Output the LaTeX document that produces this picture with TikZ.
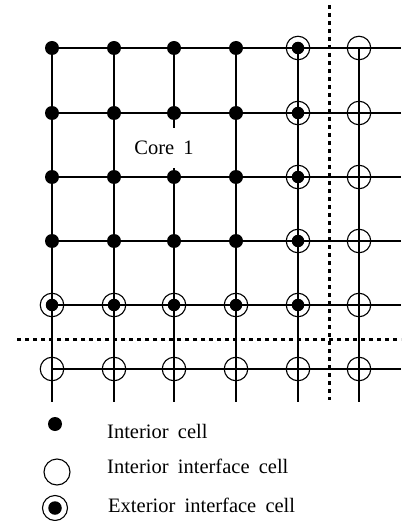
\documentclass[tikz,border=0pt]{standalone}
\usepackage{fontspec}
\setmainfont{Liberation Serif}[WordSpace=1.8]
\begin{document}
\begin{tikzpicture}[x=1pt,y=-1pt,
  gridline/.style={line width=1.1pt},
  partline/.style={line width=3pt, dash pattern=on 4pt off 4pt},
  incell/.style={circle, fill=black, inner sep=0pt, minimum size=14pt},
  ringcell/.style={circle, draw=black, line width=1.1pt, inner sep=0pt, minimum size=23.5pt},
  dotcore/.style={circle, fill=black, inner sep=0pt, minimum size=12.5pt},
  label/.style={font=\fontsize{20.5}{23}\selectfont, inner sep=0pt, anchor=base west}]
\useasboundingbox (0,0) rectangle (401,521);

% grid points
\foreach \r/\yy in {1/48,2/113,3/177,4/241,5/305,6/369}{
  \foreach \c/\xx in {1/52,2/114,3/174,4/236,5/298,6/359}{
    \coordinate (p-\r-\c) at (\xx,\yy);
  }
  \coordinate (re-\r) at (401,\yy);
}
\foreach \c/\xx in {1/52,2/114,3/174,4/236,5/298,6/359}{
  \coordinate (be-\c) at (\xx,402);
}

% grid lines
\foreach \r in {1,...,6}{ \draw[gridline] (p-\r-1) -- (re-\r); }
\foreach \c in {1,...,6}{ \draw[gridline] (p-1-\c) -- (be-\c); }

% partition lines
\coordinate (hl) at (17,339);  \coordinate (hr) at (401,339);
\coordinate (vt) at (329,5);   \coordinate (vb) at (329,400);
\draw[partline] (hl) -- (hr);
\draw[partline] (vt) -- (vb);

% core label
\node[fill=white, inner xsep=2pt, inner ysep=13pt, font=\fontsize{20.5}{23}\selectfont] (core) at (164,148) {Core 1};

% interior cells
\foreach \r in {1,...,4}{ \foreach \c in {1,...,4}{ \node[incell] (c-\r-\c) at (p-\r-\c) {}; } }
% exterior interface cells
\foreach \r in {1,...,5}{ \node[ringcell] (c-\r-5) at (p-\r-5) {}; \node[dotcore] (d-\r-5) at (p-\r-5) {}; }
\foreach \c in {1,...,4}{ \node[ringcell] (c-5-\c) at (p-5-\c) {}; \node[dotcore] (d-5-\c) at (p-5-\c) {}; }
% interior interface cells
\foreach \r in {1,...,6}{ \node[ringcell] (c-\r-6) at (p-\r-6) {}; }
\foreach \c in {1,...,5}{ \node[ringcell] (c-6-\c) at (p-6-\c) {}; }

% legend
\node[incell, minimum size=14pt] (lg1) at (55,424) {};
\node[ringcell, minimum size=26pt] (lg2) at (57,472) {};
\node[ringcell, minimum size=25pt] (lg3) at (55,508) {};
\node[dotcore, minimum size=13.5pt] (lg3d) at (55,508) {};
\node[label] (t1) at (107,438) {Interior cell};
\node[label] (t2) at (107,473) {Interior interface cell};
\node[label] (t3) at (108,512) {Exterior interface cell};
\end{tikzpicture}
\end{document}
